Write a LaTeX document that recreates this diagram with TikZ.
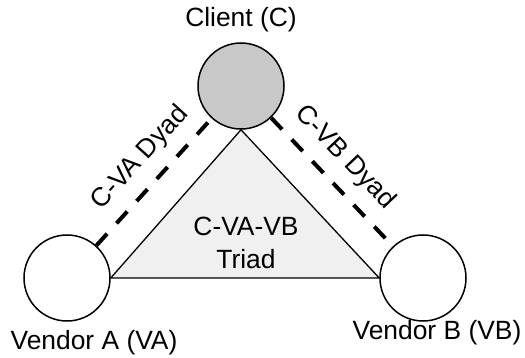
\documentclass[tikz,border=0pt]{standalone}
\usepackage{fontspec}
\setmainfont{Liberation Sans}
\usepackage{xcolor}
\usepackage{tikz}
\usetikzlibrary{calc, positioning}
\definecolor{clientgray}{RGB}{200,200,200}
\definecolor{triadgray}{RGB}{240,240,240}
\tikzset{
    partynode/.style = {draw, circle, line width=0.75pt, minimum size=43pt, inner sep = 0em, node distance=0em},
    textnode/.style  = {draw=none, fill=none, rectangle, minimum size=0cm, inner sep = 0em, 
      node distance=0em, font=\fontsize{13.2pt}{16.5pt}\selectfont},
    dyadline/.style = {black, line width=2pt, dash pattern=on 8pt off 7pt},
    triadline/.style = {black, line width=0.65pt, fill=triadgray},
    every text node part/.style={align=center}
}
\begin{document}
\begin{tikzpicture}[x=0.5pt, y=-0.5pt]
    \useasboundingbox (0,0) rectangle (525,358);

    \node [name=client, partynode, fill=clientgray] at (241,86) {}; 
    \node [name=va, partynode, fill=white] at (67,278) {}; 
    \node [name=vb, partynode, fill=white] at (423,278) {}; 

    \node [name=clientlbl, textnode, above of=client, yshift=33pt] {Client (C)}; 
    \node [name=valbl, textnode, below of=va, xshift=13.5pt, yshift=-32.5pt] {Vendor A (VA)}; 
    \node [name=vblbl, textnode, below of=vb, xshift=7pt, yshift=-27.5pt] {Vendor B (VB)}; 

    \draw [triadline] (client.south) -- (vb.west) -- (va.east) -- cycle;
    \node [name=triad, textnode, below of=client, xshift=2.5pt, yshift=-78.5pt] {C-VA-VB\\Triad}; 

    \draw (va) edge[dyadline] node [textnode, pos=0.55, sloped, above=6pt] {C-VA Dyad} (client);
    \draw (client) edge[dyadline] node [textnode, pos=0.45, sloped, above=6pt] {C-VB Dyad} (vb);
\end{tikzpicture}
\end{document}
